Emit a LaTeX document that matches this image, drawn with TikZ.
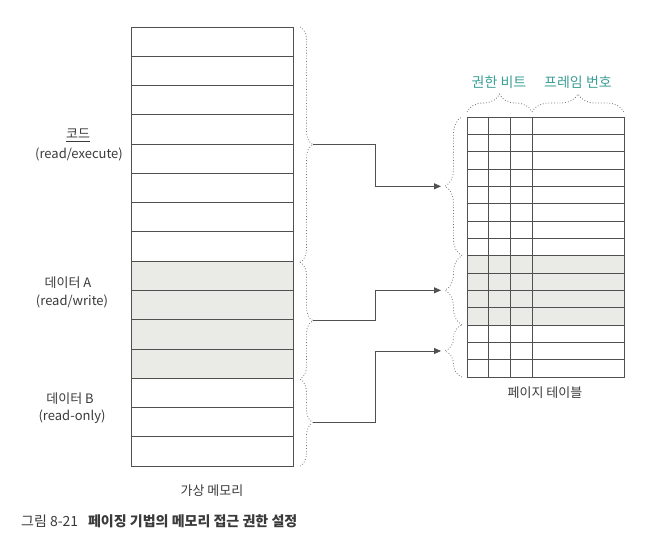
\documentclass[tikz,border=0pt]{standalone}
\usepackage{fontspec}
\setmainfont{Noto Sans CJK KR}
\usetikzlibrary{decorations.pathreplacing,arrows.meta,calc}
\definecolor{ln}{HTML}{505050}
\definecolor{txt}{HTML}{3A3A3A}
\definecolor{tealc}{HTML}{3A9E94}
\definecolor{shadec}{HTML}{EAEBE7}
\begin{document}
\begin{tikzpicture}[x=1pt,y=-1pt,
  memrow/.style={draw=ln,line width=0.8pt,minimum width=162pt,minimum height=29.27pt,inner sep=0pt,outer sep=0pt,anchor=north west},
  pgrow/.style={draw=ln,line width=0.8pt,minimum width=157pt,minimum height=17.33pt,inner sep=0pt,outer sep=0pt,anchor=north west},
  dbrace/.style={draw=ln!80,dotted,line width=0.8pt,decorate,decoration={brace,amplitude=#1}},
  conn/.style={draw=ln,line width=0.8pt,-{Triangle[length=7pt,width=6pt]}},
  lbl/.style={text=txt,font=\fontsize{13}{16}\selectfont,align=center,inner sep=1pt},
  tlbl/.style={text=tealc,font=\fontsize{14}{16}\selectfont,inner sep=1pt}
]
\useasboundingbox (0,0) rectangle (646,544);
% virtual memory
\foreach \i in {1,...,15}{
  \pgfmathsetmacro{\yy}{27+(\i-1)*29.27}
  \ifnum\i>8 \ifnum\i<13
    \node[memrow,fill=shadec] (m\i) at (131,\yy) {};
  \else
    \node[memrow] (m\i) at (131,\yy) {};
  \fi\else
    \node[memrow] (m\i) at (131,\yy) {};
  \fi
}
% page table
\foreach \i in {1,...,15}{
  \pgfmathsetmacro{\yy}{117+(\i-1)*17.33}
  \ifnum\i>8 \ifnum\i<13
    \node[pgrow,fill=shadec] (p\i) at (467,\yy) {};
  \else
    \node[pgrow] (p\i) at (467,\yy) {};
  \fi\else
    \node[pgrow] (p\i) at (467,\yy) {};
  \fi
}
\foreach \dx in {21,43,65}{
  \draw[ln,line width=0.8pt] ($(p1.north west)+(\dx,0)$) -- ($(p15.south west)+(\dx,0)$);
}
% braces on memory
\draw[dbrace=13pt] (300,27) -- (300,262.2);
\draw[dbrace=13pt] (300,262.2) -- (300,379.2);
\draw[dbrace=13pt] (300,379.2) -- (300,466);
\coordinate (b1) at (313,144.6);
\coordinate (b2) at (313,320.7);
\coordinate (b3) at (313,422.6);
% braces on page table
\draw[dbrace=17pt] (462,255.6) -- (462,117);
\draw[dbrace=17pt] (462,324.9) -- (462,255.6);
\draw[dbrace=17pt] (462,377) -- (462,324.9);
\coordinate (t1) at (441,186.3);
\coordinate (t2) at (441,290.3);
\coordinate (t3) at (441,351);
\coordinate (j) at (375,0);
% top braces
\draw[dbrace=18pt] (467,112) -- (532,112);
\draw[dbrace=18pt] (532,112) -- (624,112);
% connectors
\draw[conn] (b1) -- (b1 -| j) |- (t1);
\draw[conn] (b2) -- (b2 -| j) |- (t2);
\draw[conn] (b3) -- (b3 -| j) |- (t3);
% labels
\node[lbl] (code) at (78,134) {코드};
\draw[txt,line width=0.6pt] ($(code.south west)+(1,1)$) -- ($(code.south east)+(-1,1)$);
\node[lbl] (codep) at (79,154) {(read/execute)};
\node[lbl] (da) at (68,283) {데이터 A};
\node[lbl] (dap) at (72,301) {(read/write)};
\node[lbl] (db) at (70,399) {데이터 B};
\node[lbl] (dbp) at (72,417) {(read-only)};
\node[lbl] (vm) at (212,491) {가상 메모리};
\node[lbl] (pt) at (545,393) {페이지 테이블};
\node[tlbl] (perm) at (499,82) {권한 비트};
\node[tlbl] (frame) at (578,82) {프레임 번호};
\node[text=txt,font=\fontsize{14}{16}\selectfont,anchor=west,inner sep=0pt] (cap) at (21,521) {그림 8-21\hspace{0.7em}{\bfseries 페이징 기법의 메모리 접근 권한 설정}};
\end{tikzpicture}
\end{document}
